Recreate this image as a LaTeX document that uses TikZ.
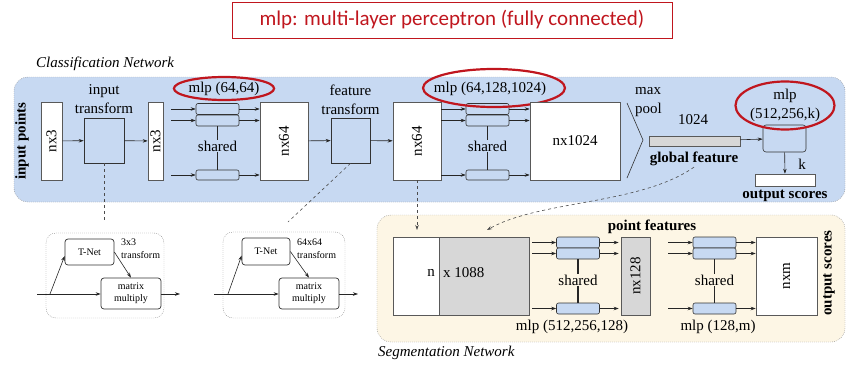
\documentclass[tikz,border=0pt]{standalone}
\usepackage{fontspec}
\usepackage{graphicx}
\setmainfont{Liberation Serif}
\newfontfamily\calibri{Carlito}
\usetikzlibrary{arrows.meta, shapes.geometric}

\definecolor{clsblue}{RGB}{199,217,242}
\definecolor{segbeige}{RGB}{253,246,229}
\definecolor{featgray}{RGB}{215,215,215}
\definecolor{ringred}{RGB}{192,22,30}

\tikzset{
  region/.style={draw=black!45, dash pattern=on 0.8pt off 1.2pt, rounded corners=14pt},
  blk/.style={draw=black!65, fill=white, inner sep=0pt, line width=0.6pt},
  tbox/.style={draw=black!80, fill=clsblue, inner sep=0pt, line width=0.6pt},
  sbox/.style={draw=black!80, fill=clsblue, rounded corners=2pt, minimum width=43,
    minimum height=11, inner sep=0pt, line width=0.6pt},
  tnet/.style={draw=black!80, fill=white, rounded corners=3pt, inner sep=0pt,
    line width=0.7pt, align=center, font=\fontsize{10}{12}\selectfont},
  arr/.style={-{Stealth[length=5pt,width=3.5pt]}, draw=black!85, line width=0.6pt},
  tie/.style={draw=black!85, line width=1.2pt},
  ring/.style={draw=ringred, line width=2.2pt, ellipse, inner sep=0pt},
  small/.style={font=\fontsize{10}{13}\selectfont, align=left, inner sep=0pt},
}

\begin{document}
\begin{tikzpicture}[x=1pt, y=-1pt, font=\fontsize{15}{19}\selectfont]
\useasboundingbox (0,0) rectangle (852,375);

% header
\node[draw=ringred, line width=0.8pt, text=ringred, font=\calibri\fontsize{21}{25}\selectfont,
  minimum width=440, minimum height=36, inner sep=0pt] (title) at (452,20)
  {mlp: multi-layer perceptron (fully connected)};

% the two network areas
\draw[region, fill=clsblue] (14,77) rectangle (845,202);
\draw[region, fill=segbeige] (377,215) rectangle (845,342);
\node[anchor=west, font=\itshape\fontsize{15}{19}\selectfont, inner sep=0pt] (clsname) at (36,64) {Classification Network};
\node[anchor=west, font=\itshape\fontsize{15}{19}\selectfont, inner sep=0pt] (segname) at (378,353) {Segmentation Network};

% classification network
\node[rotate=90, font=\bfseries\fontsize{15}{19}\selectfont] (inpts) at (22,141) {input points};
\node[blk, minimum width=21, minimum height=78] (x1) at (51.5,141) {\rotatebox{90}{nx3}};
\node[tbox, minimum width=40, minimum height=45] (itr) at (104,140.5) {};
\node[align=center] (itrlab) at (104,99.5) {input\\transform};
\node[blk, minimum width=15, minimum height=78] (x2) at (155.5,141) {\rotatebox{90}{nx3}};

\node[sbox] (a1) at (217.5,109) {};
\node[sbox] (a2) at (217.5,120.5) {};
\node[sbox, minimum height=10] (a3) at (217.5,175) {};
\node[inner sep=1pt] (sh1) at (217.5,146) {shared};
\node[ring, minimum width=98, minimum height=23] (mlp1) at (224,88.5) {mlp (64,64)};

\node[blk, minimum width=48, minimum height=78] (f1) at (284,141) {\rotatebox{90}{nx64}};
\node[tbox, minimum width=39, minimum height=45] (ftr) at (350.5,140.5) {};
\node[align=center] (ftrlab) at (350.5,99.5) {feature\\transform};
\node[blk, minimum width=48, minimum height=78] (f2) at (417,141) {\rotatebox{90}{nx64}};

\node[sbox] (b1) at (487.5,109) {};
\node[sbox] (b2) at (487.5,120.5) {};
\node[sbox, minimum height=10] (b3) at (487.5,175) {};
\node[inner sep=1pt] (sh2) at (487.5,146) {shared};
\node[ring, minimum width=142, minimum height=38] (ring2) at (494,88) {};
\node (mlp2) at (490,89) {mlp (64,128,1024)};

\node[blk, minimum width=90, minimum height=78] (g1) at (575,141) {nx1024};

% max pooling
\coordinate (mp1) at (627,103);
\coordinate (mp2) at (643,140);
\coordinate (mp3) at (627,178);
\draw[draw=black!80, line width=0.6pt] (mp1) -- (mp2) -- (mp3);
\node[anchor=west, align=left, inner sep=0pt] (mplab) at (635,102.5) {max\\pool};

\node[blk, fill=featgray, minimum width=91, minimum height=10] (gf) at (694.5,141) {};
\node (gfdim) at (693,120) {1024};
\node[font=\bfseries\fontsize{15}{19}\selectfont, inner sep=1pt] (gflab) at (694,159) {global feature};

\node[tbox, rounded corners=3pt, minimum width=43, minimum height=27] (fc) at (784.5,138.5) {};
\node[ring, minimum width=99, minimum height=48, align=center] (mlp3) at (785,105.5) {mlp\\(512,256,k)};
\node[blk, minimum width=60, minimum height=12] (score) at (785,180) {};
\node (klab) at (802,164) {k};
\node[font=\bfseries\fontsize{15}{19}\selectfont] (scorelab) at (785,196) {output scores};

\foreach \s in {1,2,3} {
  \draw[arr, shorten <=8pt] (x2.east |- a\s) -- (a\s);
  \draw[arr] (a\s) -- (f1.west |- a\s);
  \draw[arr] (f2.east |- b\s) -- (b\s);
  \draw[arr] (b\s) -- (g1.west |- b\s);
}
\draw[tie] (a2) -- (sh1) -- (a3);
\draw[tie] (b2) -- (sh2) -- (b3);
\draw[arr] (x1) -- (itr);
\draw[arr] (itr) -- (x2);
\draw[arr] (f1) -- (ftr);
\draw[arr] (ftr) -- (f2);
\draw[arr] (gf) -- (fc);
\draw[arr] (fc) -- (score);

% segmentation network
\node[blk, minimum width=46, minimum height=78] (nseg) at (416,276) {};
\node[blk, fill=featgray, minimum width=90, minimum height=78] (gseg) at (484,276) {};
\node[anchor=east, inner sep=0pt] (nlab) at (435,273) {n};
\node[anchor=west, inner sep=0pt] (catlab) at (443,273) {x 1088};

\node[sbox] (c1) at (578,242.5) {};
\node[sbox] (c2) at (578,253.5) {};
\node[sbox] (c3) at (578,308.5) {};
\node[inner sep=1pt] (sh3) at (578,280) {shared};
\node (mlp4) at (572,327) {mlp (512,256,128)};

\node[blk, fill=featgray, minimum width=29, minimum height=78] (p128) at (635.5,276) {\rotatebox{90}{nx128}};
\node[font=\bfseries\fontsize{15}{19}\selectfont] (ptlab) at (652,227) {point features};

\node[sbox] (d1) at (714.5,242.5) {};
\node[sbox] (d2) at (714.5,253.5) {};
\node[sbox] (d3) at (714.5,308.5) {};
\node[inner sep=1pt] (sh4) at (714.5,280) {shared};
\node (mlp5) at (718,327) {mlp (128,m)};

\node[blk, minimum width=61, minimum height=78] (nxm) at (786.5,276) {\rotatebox{90}{nxm}};
\node[rotate=90, font=\bfseries\fontsize{15}{19}\selectfont] (seglab) at (829,273) {output scores};

\foreach \s in {1,2,3} {
  \draw[arr, shorten <=3pt] (gseg.east |- c\s) -- (c\s);
  \draw[arr, shorten >=2pt] (c\s) -- (p128.west |- c\s);
  \draw[arr, shorten <=18pt] (p128.east |- d\s) -- (d\s);
  \draw[arr] (d\s) -- (nxm.west |- d\s);
}
\draw[tie] (c2) -- (sh3) -- (c3);
\draw[tie] (d2) -- (sh4) -- (d3);

% links between the parts
\coordinate (itrend) at (104,222);
\coordinate (ftrend) at (288,222);
\coordinate (segin) at (417,230);
\coordinate (gfin) at (487,230);
\draw[dashed, draw=black!70, line width=0.6pt] (itr.south) -- (itrend);
\draw[dashed, draw=black!70, line width=0.6pt] (ftr.south) -- (ftrend);
\draw[arr, dashed, draw=black!70] (f2.south) -- (segin);
\draw[arr, dashed, draw=black!70] (gflab.south) .. controls (640,205) and (540,200) .. (gfin);

% transform details
\draw[region, draw=black!50, rounded corners=10pt] (46,233) rectangle (164,318);
\node[tnet, minimum width=49, minimum height=26] (tn1) at (89.5,252) {T-Net};
\node[tnet, minimum width=60, minimum height=31] (mm1) at (131,293.5) {matrix\\multiply};
\node[small, anchor=north west] (tf1) at (121,239) {3x3\\transform};
\coordinate (in1) at (37,294);
\coordinate (br1) at (50,294);
\coordinate (out1) at (180,294);
\draw[arr] (in1) -- (mm1.west |- in1);
\draw[arr] (br1) -- ([yshift=-4pt]tn1.west);
\draw[arr] (tn1.east) -- (mm1.north);
\draw[arr] (mm1.east |- out1) -- (out1);

\draw[region, draw=black!50, rounded corners=10pt] (223,232) rectangle (345,318);
\node[tnet, minimum width=48, minimum height=27] (tn2) at (266,251.5) {T-Net};
\node[tnet, minimum width=60, minimum height=31] (mm2) at (309,293.5) {matrix\\multiply};
\node[small, anchor=north west] (tf2) at (297,239) {64x64\\transform};
\coordinate (in2) at (214,294);
\coordinate (br2) at (228,294);
\coordinate (out2) at (358,294);
\draw[arr] (in2) -- (mm2.west |- in2);
\draw[arr] (br2) -- ([yshift=-4pt]tn2.west);
\draw[arr] (tn2.east) -- (mm2.north);
\draw[arr] (mm2.east |- out2) -- (out2);
\end{tikzpicture}
\end{document}
